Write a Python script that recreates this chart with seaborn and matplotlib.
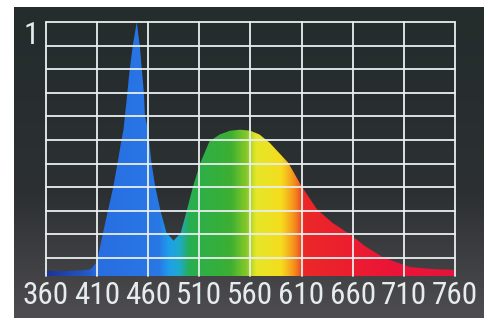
import numpy as np
import matplotlib
matplotlib.use("Agg")
import matplotlib.pyplot as plt
from matplotlib import font_manager
from matplotlib.colors import LinearSegmentedColormap, Normalize
import seaborn as sns

sns.set_theme(style="white")

# pick a narrow face if one is around
names = {(f.name, f.stretch) for f in font_manager.fontManager.ttflist}
label_font = dict(family='DejaVu Sans', fontstretch='normal', size=17)
for fam in ['Liberation Sans Narrow', 'Roboto Condensed', 'Open Sans Condensed']:
    if any(n == fam for n, _ in names):
        label_font = dict(family=fam, fontstretch='normal', size=22.5)
        break
else:
    if ('DejaVu Sans', 'condensed') in names or ('DejaVu Sans', 'semi-condensed') in names:
        label_font = dict(family='DejaVu Sans', fontstretch='condensed', size=20)
plt.rcParams['font.family'] = [label_font['family'], 'DejaVu Sans']

# relative spectral intensity of a white LED
wavelengths = [360, 380, 395, 403, 406, 409, 411, 416, 421, 426, 430, 434, 436, 439,
               442, 445, 449, 452, 454, 456, 457, 460, 461, 463.5, 467, 472, 478, 485,
               492, 498, 504, 511, 520, 530, 540, 550, 560, 569, 579, 597, 610, 625,
               640, 657, 673, 690, 716, 740, 760]
intensity = [0.02, 0.02, 0.022, 0.025, 0.035, 0.05, 0.075, 0.17, 0.26, 0.35, 0.44, 0.535, 0.576, 0.69,
             0.81, 0.905, 1.0, 0.905, 0.81, 0.72, 0.63, 0.576, 0.535, 0.443, 0.352, 0.26, 0.17, 0.139,
             0.17, 0.26, 0.353, 0.444, 0.53, 0.557, 0.572, 0.576, 0.572, 0.557, 0.524, 0.446, 0.354, 0.263,
             0.21, 0.165, 0.115, 0.073, 0.035, 0.027, 0.024]
tick_values = [360, 410, 460, 510, 560, 610, 660, 710, 760]
tick_labels = ['360', '410', '460', '510', '560', '610', '660', '710', '760']
grid_levels = [1.0 - k * 0.0929 for k in range(11)]

# colour of the light at each wavelength
spectrum_stops = [
    (360, (30, 50, 150)), (400, (35, 90, 200)), (410, (40, 110, 225)),
    (470, (40, 120, 230)), (480, (30, 160, 235)), (490, (30, 170, 200)),
    (500, (40, 175, 80)), (540, (60, 175, 50)), (555, (130, 200, 40)),
    (565, (230, 230, 40)), (590, (245, 220, 30)), (603, (245, 140, 30)),
    (612, (235, 40, 40)), (700, (235, 20, 55)), (760, (230, 20, 60)),
]
spec_cmap = LinearSegmentedColormap.from_list(
    'spec', [((w - 360) / 400, tuple(c / 255 for c in rgb)) for w, rgb in spectrum_stops])

fig = plt.figure(figsize=(4.9, 3.2), dpi=100)
fig.patch.set_facecolor('white')

# dark panel behind the chart
bg = fig.add_axes([14 / 490, 1 - 318 / 320, 469 / 490, 311 / 320])
bg_cmap = LinearSegmentedColormap.from_list(
    'bg', [(0, (36 / 255, 44 / 255, 44 / 255)), (0.6, (44 / 255, 48 / 255, 50 / 255)),
           (1, (78 / 255, 76 / 255, 80 / 255))])
bg.imshow(np.linspace(0, 1, 200).reshape(-1, 1), cmap=bg_cmap, aspect='auto',
          extent=[0, 1, 1, 0])
bg.set_axis_off()

ax = fig.add_axes([45.7 / 490, 1 - 276 / 320, (455 - 45.7) / 490, (276 - 22) / 320])
ax.set_facecolor('none')
ax.set_xlim(360, 760)
ax.set_ylim(0, 1)

sns.lineplot(x=wavelengths, y=intensity, ax=ax, linewidth=0, legend=False)
poly = ax.fill_between(wavelengths, 0, intensity, facecolor='none', edgecolor='none')
img = ax.imshow(np.linspace(360, 760, 800).reshape(1, -1), cmap=spec_cmap,
                norm=Normalize(360, 760), aspect='auto', extent=[360, 760, 0, 1],
                zorder=1)
img.set_clip_path(poly.get_paths()[0], transform=ax.transData)

grid_color = '#e9eeee'
for x in tick_values:
    ax.axvline(x, color=grid_color, lw=1.3, clip_on=False, zorder=3)
for y in grid_levels:
    ax.axhline(y, color=grid_color, lw=1.3, clip_on=False, zorder=3)

for s in ax.spines.values():
    s.set_visible(False)
ax.set_xticks(tick_values, tick_labels)
ax.set_yticks([])
ax.tick_params(axis='x', length=0, pad=3.5, labelcolor='#e6ebeb')
for lab in ax.get_xticklabels():
    lab.set_fontsize(label_font['size'])
    lab.set_fontstretch(label_font['fontstretch'])
ax.set_xlabel('')

fig.text(31 / 490, 1 - 36 / 320, '1', ha='center', va='center',
         fontsize=label_font['size'], fontstretch=label_font['fontstretch'],
         color='#e6ebeb')

fig.savefig('out.png', dpi=100)
